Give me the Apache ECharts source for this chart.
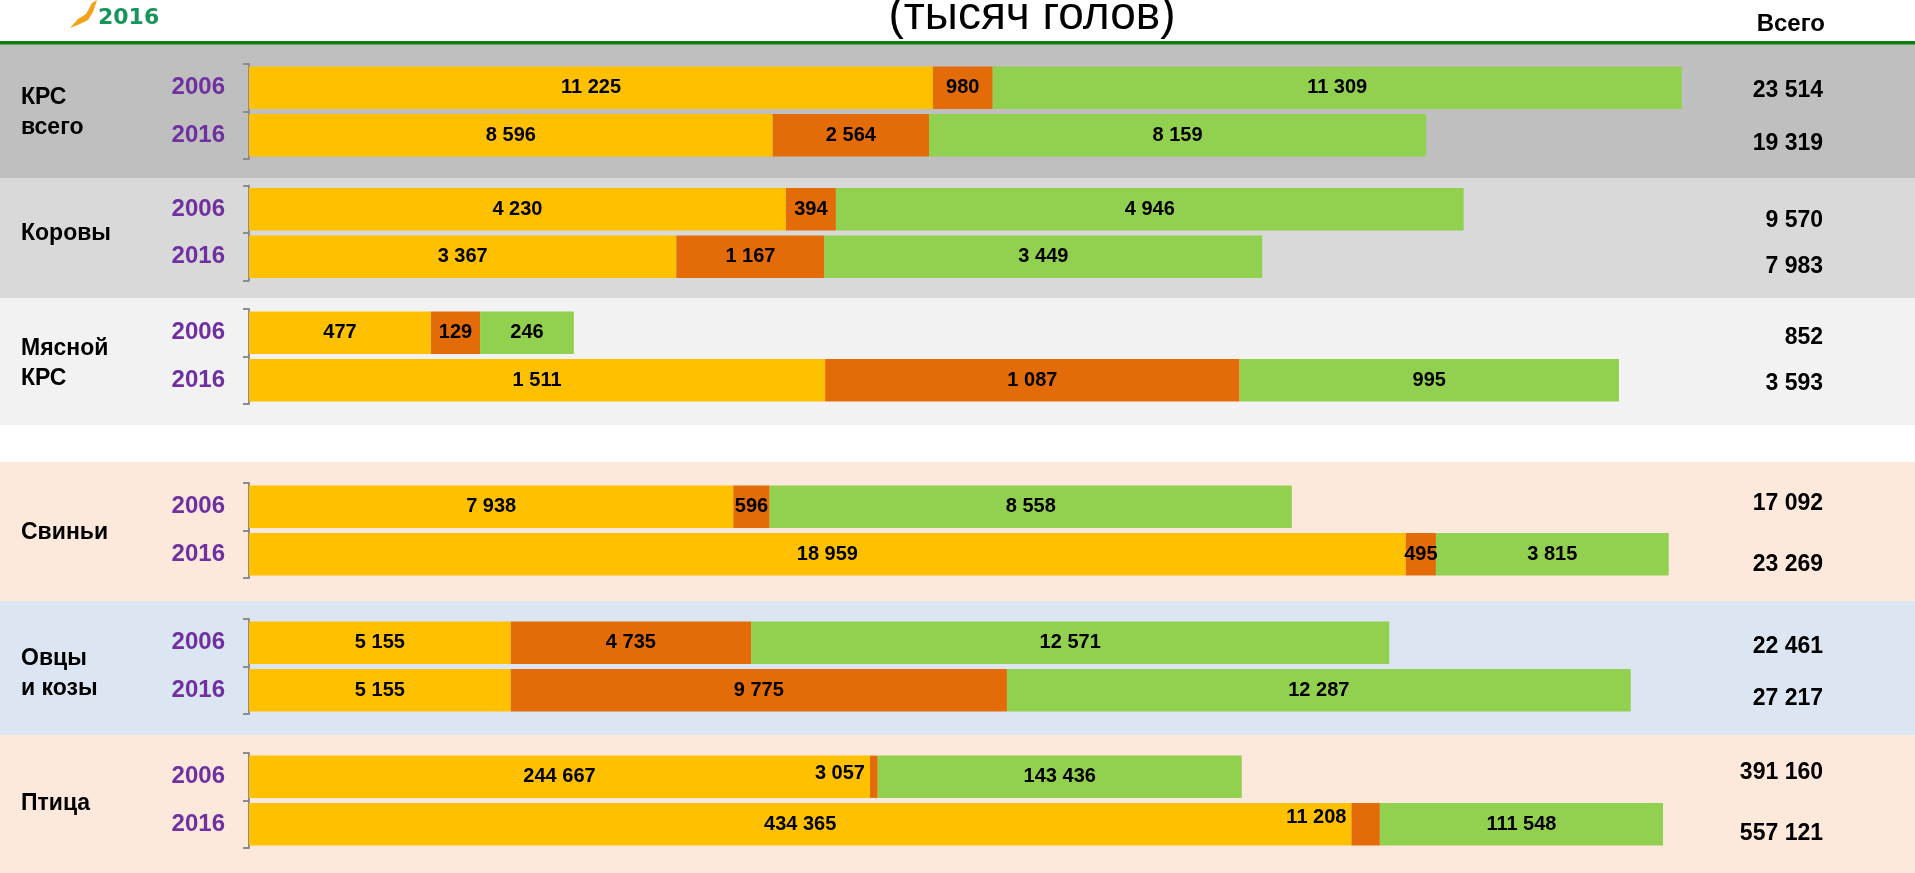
<!DOCTYPE html>
<html>
<head>
<meta charset="utf-8">
<script src="https://cdn.jsdelivr.net/npm/echarts@6.0.0/dist/echarts.min.js"></script>
<style>
html,body{margin:0;padding:0;background:#fff;}
#chart{width:1915px;height:873px;}
</style>
</head>
<body>
<div id="chart"></div>
<script>
// ---------- DATA ----------
const groups = ['КРС\nвсего', 'Коровы', 'Мясной\nКРС', 'Свиньи', 'Овцы\nи козы', 'Птица'];
const years = ['2006', '2016'];
// segments per group: [2006, 2016]
const yellowVals = [[11225, 8596], [4230, 3367], [477, 1511], [7938, 18959], [5155, 5155], [244667, 434365]];
const orangeVals = [[980, 2564], [394, 1167], [129, 1087], [596, 495], [4735, 9775], [3057, 11208]];
const greenVals  = [[11309, 8159], [4946, 3449], [246, 995], [8558, 3815], [12571, 12287], [143436, 111548]];
// value-axis maximum of each group's own scale
const axisMax = [24618, 11818, 3934, 24585, 29547, 591007];
const titleText = '(тысяч голов)';
const totalHeader = 'Всего';

// ---------- LAYOUT / STYLE ----------
const FONT = "'Liberation Sans', Arial, sans-serif";
const GRID_LEFT = 249, GRID_W = 1500, GRID_H = 95;
const gridTops = [64, 185.5, 309, 483, 619, 753];
const bands = [
  [44, 178, '#BFBFBF'], [178, 298, '#D9D9D9'], [298, 425, '#F2F2F2'],
  [462, 601, '#FDE9DB'], [601, 735, '#DCE6F2'], [735, 873, '#FDE9DB']
];
const totalDy = [[2.5, 8], [11, 10], [4.5, 3], [-3.5, 10], [3.5, 8.5], [-4, 9]];
const groupLabelDy = [1, 0.5, 7, 2, 7, 3];
const segColors = ['#FFC000', '#E36C09', '#92D050'];
const segs = [yellowVals, orangeVals, greenVals];

function fmt(n) { return String(n).replace(/\B(?=(\d{3})+(?!\d))/g, ' '); }

const grids = [], xAxes = [], yAxes = [], series = [];
groups.forEach((g, i) => {
  grids.push({ left: GRID_LEFT, top: gridTops[i], width: GRID_W, height: GRID_H });
  xAxes.push({ type: 'value', gridIndex: i, min: 0, max: axisMax[i], show: false });
  yAxes.push({
    type: 'category', gridIndex: i, data: years, inverse: true, offset: 4,
    axisLine: { show: true, lineStyle: { color: '#8C8C8C', width: 2 } },
    axisTick: { show: true, length: 6, lineStyle: { color: '#8C8C8C', width: 2 } },
    axisLabel: { color: '#7030A0', fontSize: 24, fontWeight: 'bold', fontFamily: FONT, margin: 20 }
  });
  const totals = years.map((y, k) => fmt(yellowVals[i][k] + orangeVals[i][k] + greenVals[i][k]));
  const rich = {};
  totalDy[i].forEach((dy, k) => {
    rich['r' + k] = {
      fontSize: 23, fontWeight: 'bold', fontFamily: FONT, color: '#000',
      padding: dy >= 0 ? [2 * dy, 0, 0, 0] : [0, 0, -2 * dy, 0]
    };
  });
  yAxes.push({
    type: 'category', gridIndex: i, data: totals, inverse: true, position: 'right',
    axisLine: { show: false }, axisTick: { show: false },
    axisLabel: {
      align: 'right', margin: 1823 - (GRID_LEFT + GRID_W),
      formatter: (v, k) => '{r' + k + '|' + v + '}', rich: rich
    }
  });
  segs.forEach((arr, s) => {
    const data = arr[i].map((v, k) => {
      const item = { value: v };
      // tiny orange segments of Птица: label placed left of the segment
      if (i === 5 && s === 1) {
        item.label = { position: 'left', distance: 5, offset: [0, k === 0 ? -3 : -7] };
      }
      return item;
    });
    series.push({
      type: 'bar', xAxisIndex: i, yAxisIndex: i * 2, stack: 'g' + i,
      barCategoryGap: '11%',
      itemStyle: { color: segColors[s] },
      label: {
        show: true, position: 'inside', color: '#000', fontSize: 20, fontWeight: 'bold',
        fontFamily: FONT, formatter: p => fmt(p.value)
      },
      emphasis: { disabled: true },
      data: data
    });
  });
});

const graphics = [];
bands.forEach(b => graphics.push({
  type: 'rect', z: -100, silent: true,
  shape: { x: 0, y: b[0], width: 1915, height: b[1] - b[0] }, style: { fill: b[2] }
}));
graphics.push({ type: 'rect', z: -50, shape: { x: 0, y: 41, width: 1915, height: 3.5 }, style: { fill: '#0B800B' } });
graphics.push({
  type: 'text', x: 1032, y: 16,
  style: { text: titleText, fill: '#000', font: '46px ' + FONT, align: 'center', verticalAlign: 'middle' }
});
graphics.push({
  type: 'text', x: 1825, y: 24.5,
  style: { text: totalHeader, fill: '#000', font: 'bold 24px ' + FONT, align: 'right', verticalAlign: 'middle' }
});
// logo
graphics.push({
  type: 'polygon', shape: { points: [[70, 28], [78, 19], [86, 14], [92, 3], [97, 0], [93, 12], [88, 20], [80, 24]] },
  style: { fill: '#F2A31B' }
});
graphics.push({
  type: 'text', x: 98, y: 18,
  style: { text: '2016', fill: '#17955A', font: 'bold 22px "DejaVu Sans", sans-serif', align: 'left', verticalAlign: 'middle' }
});
groups.forEach((g, i) => graphics.push({
  type: 'text', x: 21, y: gridTops[i] + GRID_H / 2 + groupLabelDy[i],
  style: { text: g, fill: '#000', font: 'bold 23px ' + FONT, lineHeight: 30, align: 'left', verticalAlign: 'middle' }
}));

const chart = echarts.init(document.getElementById('chart'), null, { renderer: 'canvas' });
chart.setOption({
  animation: false,
  backgroundColor: '#fff',
  grid: grids, xAxis: xAxes, yAxis: yAxes, series: series,
  graphic: { elements: graphics }
});
</script>
</body>
</html>
